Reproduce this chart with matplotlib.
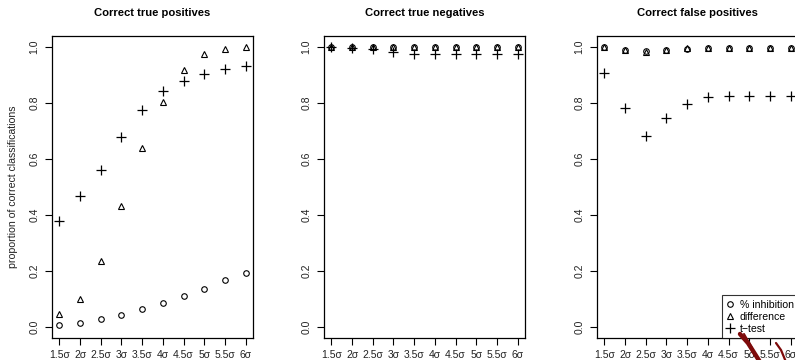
import matplotlib
matplotlib.use("Agg")
import matplotlib.pyplot as plt
from matplotlib.lines import Line2D

plt.rcParams['font.family'] = ['Liberation Sans', 'DejaVu Sans']

x_labels = ["1.5σ", "2σ", "2.5σ", "3σ", "3.5σ", "4σ", "4.5σ", "5σ", "5.5σ", "6σ"]
titles = ["Correct true positives", "Correct true negatives", "Correct false positives"]

tp_inhibition = [0.006, 0.012, 0.028, 0.043, 0.063, 0.086, 0.110, 0.134, 0.166, 0.194]
tp_difference = [0.046, 0.098, 0.237, 0.431, 0.638, 0.804, 0.920, 0.974, 0.993, 1.000]
tp_ttest = [0.380, 0.467, 0.561, 0.680, 0.774, 0.842, 0.878, 0.905, 0.923, 0.932]

tn_inhibition = [1.0, 1.0, 1.0, 1.0, 1.0, 1.0, 1.0, 1.0, 1.0, 1.0]
tn_difference = [1.0, 1.0, 1.0, 1.0, 1.0, 1.0, 1.0, 1.0, 1.0, 1.0]
tn_ttest = [0.999, 0.998, 0.994, 0.981, 0.977, 0.976, 0.975, 0.975, 0.975, 0.975]

fp_inhibition = [1.0, 0.990, 0.985, 0.990, 0.995, 0.997, 0.997, 0.997, 0.997, 0.997]
fp_difference = [1.0, 0.990, 0.983, 0.990, 0.997, 0.998, 0.998, 0.998, 0.998, 0.998]
fp_ttest = [0.907, 0.784, 0.683, 0.746, 0.797, 0.821, 0.826, 0.827, 0.827, 0.827]

legend_labels = ["% inhibition", "difference", "t\u2212test"]

panels = [
    (tp_inhibition, tp_difference, tp_ttest),
    (tn_inhibition, tn_difference, tn_ttest),
    (fp_inhibition, fp_difference, fp_ttest),
]

W, H = 795, 360
fig = plt.figure(figsize=(W / 100, H / 100), dpi=100)

lefts = [52, 324, 597]
width = 201
top, bottom = 36, 338

CIRC = dict(linestyle='none', marker='o', ms=4.0, mfc='none', mec='black', mew=0.8)
TRI = dict(linestyle='none', marker='^', ms=4.6, mfc='none', mec='black', mew=0.8)
PLUS = dict(linestyle='none', marker='+', ms=7, mec='black', mew=0.9)

xs = list(range(1, len(x_labels) + 1))
for i, (inh, dif, tt) in enumerate(panels):
    ax = fig.add_axes([lefts[i] / W, 1 - bottom / H, width / W, (bottom - top) / H])
    ax.plot(xs, inh, **CIRC)
    ax.plot(xs, dif, **TRI)
    ax.plot(xs, tt, **PLUS)
    ax.set_xlim(0.64, 10.36)
    ax.set_ylim(-0.04, 1.04)
    ax.set_xticks(xs)
    ax.set_xticklabels(x_labels)
    ax.set_yticks([0, 0.2, 0.4, 0.6, 0.8, 1.0])
    ax.set_yticklabels(["0.0", "0.2", "0.4", "0.6", "0.8", "1.0"], rotation=90, va='center')
    ax.tick_params(direction='out', length=5, width=0.8, labelsize=7.5, colors='black',
                   labelcolor='#222222')
    ax.tick_params(axis='x', pad=4)
    ax.tick_params(axis='y', pad=4)
    for s in ax.spines.values():
        s.set_linewidth(0.9)
    ax.set_title(titles[i], fontsize=8.1, fontweight='bold', pad=14.5)
    if i == 0:
        ax.set_ylabel("proportion of correct classifications", fontsize=7.6, labelpad=8,
                      color='#222222')
    if i == 2:
        handles = [Line2D([], [], **CIRC), Line2D([], [], **TRI), Line2D([], [], **PLUS)]
        leg = ax.legend(handles, legend_labels, loc='lower right', bbox_to_anchor=(1.0, 0.0),
                        fontsize=7.6, frameon=True, fancybox=False, borderpad=0.4,
                        handlelength=0.8, handletextpad=0.5, labelspacing=0.2,
                        borderaxespad=0)
        leg.get_frame().set_edgecolor('black')
        leg.get_frame().set_linewidth(0.8)

# hand-drawn dark red strokes
def fx(p):
    return p / W

def fy(p):
    return 1 - p / H

fig.add_artist(Line2D([fx(740), fx(748), fx(760)], [fy(334), fy(343), fy(362)],
                      color='#7d0a0a', lw=3.2, solid_capstyle='round'))
fig.add_artist(Line2D([fx(744), fx(752)], [fy(334), fy(348)],
                      color='#7d0a0a', lw=1.5, solid_capstyle='round'))
fig.add_artist(Line2D([fx(776), fx(781), fx(786)], [fy(343), fy(350), fy(362)],
                      color='#7d0a0a', lw=1.6, solid_capstyle='round'))

fig.savefig("out.png", dpi=100)
